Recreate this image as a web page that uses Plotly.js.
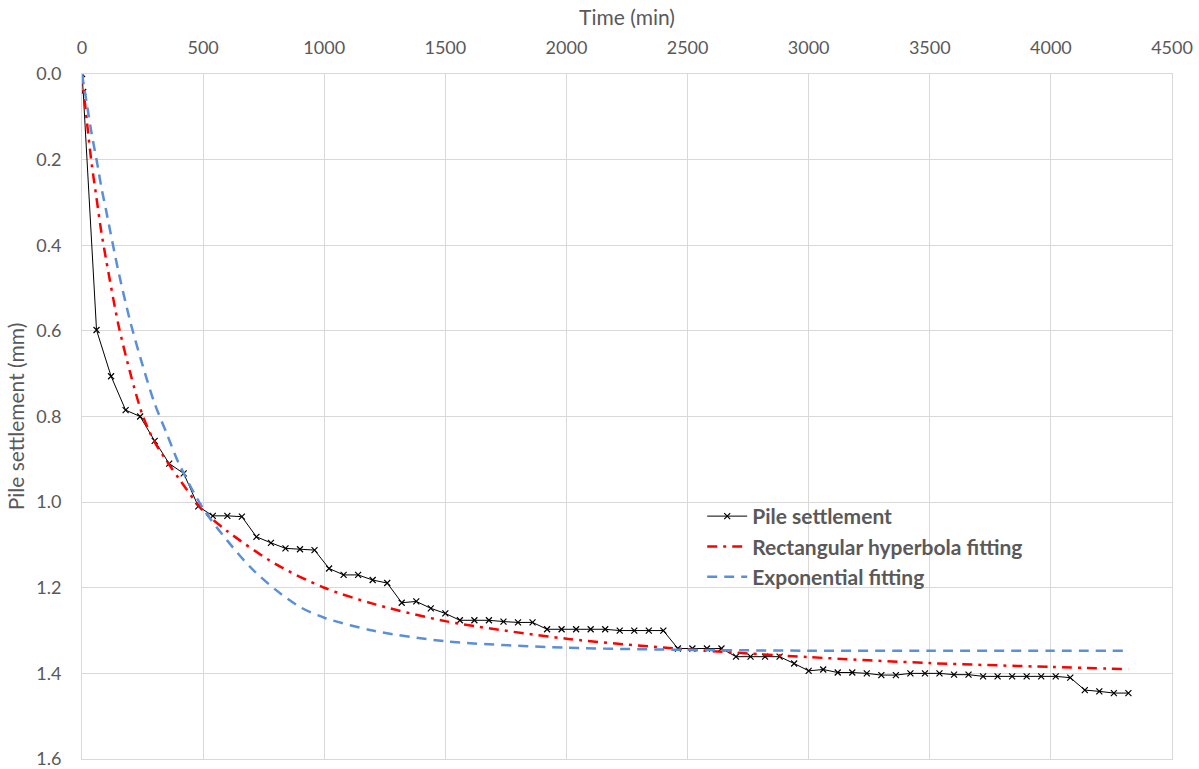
<!DOCTYPE html>
<html>
<head>
<meta charset="utf-8">
<script src="https://cdn.plot.ly/plotly-3.0.1.min.js"></script>
<style>html,body{margin:0;padding:0;background:#fff;}#chart{width:1199px;height:769px;}</style>
</head>
<body>
<div id="chart"></div>
<script>
// Measured pile settlement
const timeMeasured = [0, 5, 60, 120, 180, 240, 300, 360, 420, 480, 540, 600, 660, 720, 780, 840, 900, 960, 1020, 1080, 1140, 1200, 1260, 1320, 1380, 1440, 1500, 1560, 1620, 1680, 1740, 1800, 1860, 1920, 1980, 2040, 2100, 2160, 2220, 2280, 2340, 2400, 2460, 2520, 2580, 2640, 2700, 2760, 2820, 2880, 2940, 3000, 3060, 3120, 3180, 3240, 3300, 3360, 3420, 3480, 3540, 3600, 3660, 3720, 3780, 3840, 3900, 3960, 4020, 4080, 4140, 4200, 4260, 4320];
const settlementMeasured = [0, 0.042, 0.598, 0.706, 0.785, 0.800, 0.857, 0.910, 0.933, 1.010, 1.032, 1.032, 1.034, 1.081, 1.095, 1.108, 1.110, 1.112, 1.155, 1.170, 1.170, 1.182, 1.189, 1.235, 1.232, 1.248, 1.260, 1.276, 1.276, 1.276, 1.279, 1.281, 1.281, 1.297, 1.297, 1.297, 1.297, 1.297, 1.300, 1.300, 1.300, 1.300, 1.342, 1.342, 1.342, 1.342, 1.361, 1.361, 1.361, 1.361, 1.377, 1.394, 1.391, 1.398, 1.398, 1.400, 1.404, 1.404, 1.400, 1.400, 1.400, 1.403, 1.403, 1.407, 1.407, 1.407, 1.407, 1.407, 1.407, 1.410, 1.439, 1.442, 1.446, 1.446];

// Rectangular hyperbola fitting
const timeHyperbola = [0, 20, 40, 60, 80, 100, 150, 200, 250, 300, 400, 500, 600, 800, 1000, 1200, 1500, 2000, 2500, 3000, 3500, 4000, 4320];
const settlementHyperbola = [0, 0.11, 0.21, 0.29, 0.37, 0.435, 0.585, 0.70, 0.797, 0.86, 0.945, 1.02, 1.068, 1.145, 1.20, 1.237, 1.278, 1.319, 1.344, 1.362, 1.376, 1.385, 1.390];

// Exponential fitting
const timeExponential = [0, 20, 40, 60, 80, 100, 150, 200, 250, 300, 350, 400, 500, 600, 700, 800, 900, 1000, 1200, 1500, 2000, 2500, 3000, 3500, 4000, 4320];
const settlementExponential = [0, 0.07, 0.14, 0.2, 0.265, 0.32, 0.46, 0.58, 0.68, 0.77, 0.84, 0.91, 1.015, 1.09, 1.155, 1.205, 1.245, 1.27, 1.30, 1.325, 1.34, 1.345, 1.347, 1.347, 1.347, 1.347];

const xTicks = [0, 500, 1000, 1500, 2000, 2500, 3000, 3500, 4000, 4500];
const yTicks = [0, 0.2, 0.4, 0.6, 0.8, 1.0, 1.2, 1.4, 1.6];

const FONT = 'Lato, "Open Sans", sans-serif';
const GREY = '#595959';
const GRID = '#d9d9d9';

const traces = [
  {
    x: timeMeasured, y: settlementMeasured, name: 'Pile settlement',
    type: 'scatter', mode: 'lines+markers',
    line: {color: '#000000', width: 1},
    marker: {symbol: 'x-thin', size: 6, color: '#000000', line: {color: '#000000', width: 1.2}}
  },
  {
    x: timeHyperbola, y: settlementHyperbola, name: 'Rectangular hyperbola fitting',
    type: 'scatter', mode: 'lines',
    line: {color: '#ff0000', width: 2.5, dash: '10px,6px,3px,6px', shape: 'spline', smoothing: 0.8}
  },
  {
    x: timeExponential, y: settlementExponential, name: 'Exponential fitting',
    type: 'scatter', mode: 'lines',
    line: {color: '#5b8fd9', width: 2.5, dash: '10px,7px', shape: 'spline', smoothing: 0.8}
  }
];

const layout = {
  width: 1199, height: 769,
  margin: {l: 82, r: 27, t: 74, b: 10},
  paper_bgcolor: '#ffffff', plot_bgcolor: '#ffffff',
  font: {family: FONT, color: GREY, size: 18},
  showlegend: true,
  legend: {
    x: 0.569, y: 0.384, xanchor: 'left', yanchor: 'top',
    bgcolor: 'rgba(0,0,0,0)', borderwidth: 0,
    font: {family: FONT, size: 21, color: GREY, weight: 'bold'},
    tracegroupgap: 0, itemwidth: 40
  },
  xaxis: {
    side: 'top', range: [0, 4500], tickvals: xTicks, ticktext: xTicks.map(String),
    showgrid: true, gridcolor: GRID, gridwidth: 1, zeroline: false,
    showline: true, linecolor: GRID, linewidth: 1, mirror: true,
    ticks: '', ticklabelstandoff: 12, ticklabeloverflow: 'allow',
    tickfont: {family: FONT, size: 18, color: GREY},
    title: {text: 'Time (min)', font: {family: FONT, size: 21, color: GREY}, standoff: 4}
  },
  yaxis: {
    range: [1.6, 0], tickvals: yTicks, tickformat: '.1f',
    showgrid: true, gridcolor: GRID, gridwidth: 1, zeroline: false,
    showline: true, linecolor: GRID, linewidth: 1, mirror: true,
    ticks: '', ticklabelstandoff: 16, ticklabeloverflow: 'allow',
    tickfont: {family: FONT, size: 18, color: GREY},
    title: {text: 'Pile settlement (mm)', font: {family: FONT, size: 21, color: GREY}, standoff: 5}
  }
};

Plotly.newPlot('chart', traces, layout, {displayModeBar: false, staticPlot: true});
</script>
</body>
</html>
